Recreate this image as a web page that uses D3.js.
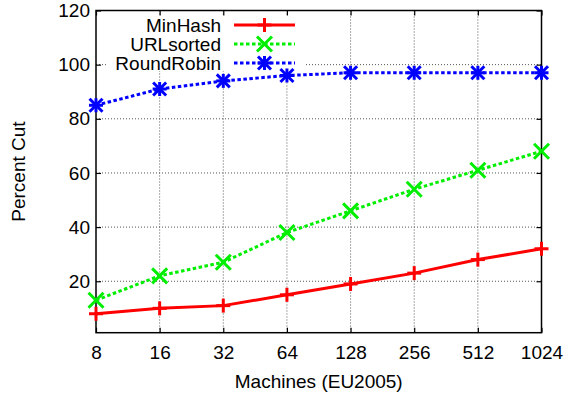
<!DOCTYPE html>
<html>
<head>
<meta charset="utf-8">
<script src="https://cdn.jsdelivr.net/npm/d3@7"></script>
<style>
  html, body { margin: 0; padding: 0; background: #fff; }
  svg { display: block; font-family: "Liberation Sans", Arial, Helvetica, sans-serif; }
</style>
</head>
<body>
<svg id="chart" width="567" height="393"></svg>
<script>
// Machines on the x axis (log2 spaced)
const machines = [8, 16, 32, 64, 128, 256, 512, 1024];
// Percent of edges cut for each partitioning scheme
const minHash    = [8, 10, 11, 15, 19, 23, 28, 32];
const urlSorted  = [13, 22, 27, 38, 46, 54, 61, 68];
const roundRobin = [85, 91, 94, 96, 97, 97, 97, 97];
const yTicks = [20, 40, 60, 80, 100, 120];
const seriesNames = ["MinHash", "URLsorted", "RoundRobin"];

const series = [
  { name: seriesNames[0], values: minHash,    color: "#ff0000", dash: null,      marker: "plus" },
  { name: seriesNames[1], values: urlSorted,  color: "#00ee00", dash: "3.5,2.5", marker: "cross" },
  { name: seriesNames[2], values: roundRobin, color: "#0000ff", dash: "3.5,2.5", marker: "star" }
];

const svg = d3.select("#chart");
const plotLeft = 96, plotRight = 541.5, plotTop = 10.5, plotBottom = 332.7;

const x = d3.scaleLog().base(2).domain([8, 1024]).range([plotLeft, plotRight]);
const y = d3.scaleLinear().domain([1, 120]).range([plotBottom, plotTop]);

// dotted grid
const grid = svg.append("g").attr("stroke", "#555").attr("stroke-width", 1).attr("stroke-dasharray", "1,2");
machines.slice(1, -1).forEach(m => {
  grid.append("line").attr("x1", x(m)).attr("x2", x(m)).attr("y1", plotTop).attr("y2", plotBottom);
});
yTicks.slice(0, -1).forEach(v => {
  grid.append("line").attr("x1", plotLeft).attr("x2", plotRight).attr("y1", y(v)).attr("y2", y(v));
});

// key box (opaque, hides grid behind it)
svg.append("rect").attr("x", 108).attr("y", 15).attr("width", 198).attr("height", 56).attr("fill", "#fff");

// axes: labels from d3 axes, ticks inward and mirrored
const fontSize = 19;
const xAxis = svg.append("g").attr("transform", `translate(0,${plotBottom})`)
  .call(d3.axisBottom(x).tickValues(machines).tickFormat(d3.format("d")).tickSize(-5).tickPadding(13));
const xAxisTop = svg.append("g").attr("transform", `translate(0,${plotTop})`)
  .call(d3.axisTop(x).tickValues(machines).tickFormat("").tickSize(-5));
const yAxis = svg.append("g").attr("transform", `translate(${plotLeft},0)`)
  .call(d3.axisLeft(y).tickValues(yTicks).tickSize(-5).tickPadding(6));
const yAxisRight = svg.append("g").attr("transform", `translate(${plotRight},0)`)
  .call(d3.axisRight(y).tickValues(yTicks).tickFormat("").tickSize(-5));

[xAxis, xAxisTop, yAxis, yAxisRight].forEach(g => {
  g.select(".domain").remove();
  g.selectAll(".tick line").attr("stroke", "#000").attr("stroke-width", 1.2);
  g.selectAll("text").attr("font-size", fontSize).attr("fill", "#000");
  g.attr("font-family", null).attr("font-size", null);
});

// border
svg.append("rect").attr("x", plotLeft).attr("y", plotTop)
  .attr("width", plotRight - plotLeft).attr("height", plotBottom - plotTop)
  .attr("fill", "none").attr("stroke", "#000").attr("stroke-width", 1.5);

// axis titles
svg.append("text").attr("x", (plotLeft + plotRight) / 2).attr("y", 388).attr("text-anchor", "middle")
  .attr("font-size", fontSize).text("Machines (EU2005)");
svg.append("text").attr("transform", `translate(25,${(plotTop + plotBottom) / 2}) rotate(-90)`)
  .attr("text-anchor", "middle").attr("font-size", fontSize).text("Percent Cut");

// point symbols
function drawMarker(g, cx, cy, type, color) {
  const s = 7;
  const segs = [];
  if (type === "plus" || type === "star") {
    segs.push([cx - s, cy, cx + s, cy], [cx, cy - s, cx, cy + s]);
  }
  if (type === "cross" || type === "star") {
    const d = type === "star" ? 6.5 : 7.5;
    segs.push([cx - d, cy - d, cx + d, cy + d], [cx - d, cy + d, cx + d, cy - d]);
  }
  segs.forEach(p => g.append("line").attr("x1", p[0]).attr("y1", p[1]).attr("x2", p[2]).attr("y2", p[3])
    .attr("stroke", color).attr("stroke-width", 3));
}

const line = d3.line().x(d => x(d[0])).y(d => y(d[1]));

series.forEach(s => {
  const pts = machines.map((m, i) => [m, s.values[i]]);
  const g = svg.append("g");
  g.append("path").datum(pts).attr("d", line).attr("fill", "none")
    .attr("stroke", s.color).attr("stroke-width", 3)
    .attr("stroke-dasharray", s.dash);
  pts.forEach(p => drawMarker(g, x(p[0]), y(p[1]), s.marker, s.color));
});

// key
const keyRows = [25, 44, 63];
series.forEach((s, i) => {
  const ky = keyRows[i];
  svg.append("text").attr("x", 221).attr("y", ky).attr("dy", "0.35em").attr("text-anchor", "end")
    .attr("font-size", fontSize).text(s.name);
  const g = svg.append("g");
  g.append("line").attr("x1", 234).attr("x2", 295).attr("y1", ky).attr("y2", ky)
    .attr("stroke", s.color).attr("stroke-width", 3).attr("stroke-dasharray", s.dash);
  drawMarker(g, 264.5, ky, s.marker, s.color);
});
</script>
</body>
</html>
